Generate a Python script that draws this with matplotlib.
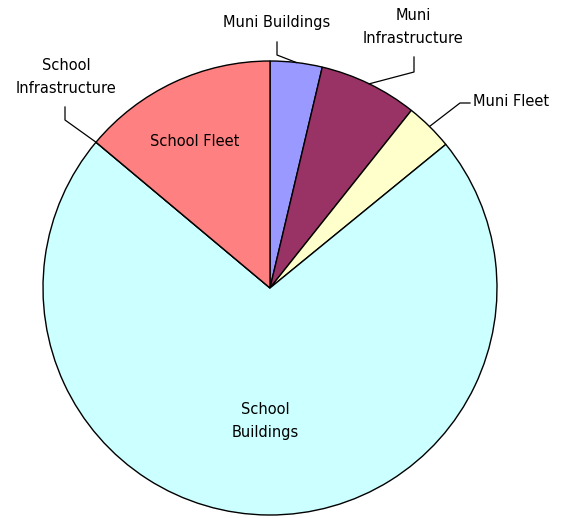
import numpy as np
import matplotlib.pyplot as plt

# slice values (percent), clockwise from 12 o'clock
labels = ['Muni Buildings', 'Muni\nInfrastructure', 'Muni Fleet',
          'School\nBuildings', 'School\nInfrastructure', 'School Fleet']
values = [3.7, 7.0, 3.4, 72.0, 0.0, 13.9]
colors = ['#9999FF', '#993366', '#FFFFCC', '#CCFFFF', '#660066', '#FF8080']

W, H = 561, 518
fig = plt.figure(figsize=(W / 100, H / 100), dpi=100)
ax = fig.add_axes([0, 0, 1, 1])

cx, cy, r = 270, H - 288, 227
ax.pie(values, colors=colors, startangle=90, counterclock=False,
       center=(cx, cy), radius=r, frame=True,
       wedgeprops=dict(edgecolor='black', linewidth=1.0))
ax.set_xlim(0, W)
ax.set_ylim(0, H)
ax.set_aspect('equal')
ax.axis('off')

# mid angle of each slice (degrees clockwise from top)
cum = np.cumsum([0] + values)
mid = (cum[:-1] + cum[1:]) / 2 / sum(values) * 360


def edge(i):
    a = np.deg2rad(mid[i])
    return cx + r * np.sin(a), cy + r * np.cos(a)


font = dict(family='DejaVu Sans', fontsize=10.5, color='black')

# outside labels with elbow leader lines
outside = {
    0: dict(text=(277, H - 22), elbow=[(277, H - 42), (277, H - 55)], ha='center'),
    1: dict(text=(413, H - 27), elbow=[(414, H - 57), (414, H - 72)], ha='center'),
    2: dict(text=(473, H - 102), elbow=[(470, H - 103), (460, H - 103)], ha='left'),
    4: dict(text=(66, H - 77), elbow=[(65, H - 107), (65, H - 120)], ha='center'),
}
for i, o in outside.items():
    ax.text(*o['text'], labels[i], ha=o['ha'], va='center',
            multialignment='center', linespacing=1.6, **font)
    ex, ey = edge(i)
    pts = o['elbow'] + [(ex, ey)]
    ax.plot([p[0] for p in pts], [p[1] for p in pts], color='black', lw=0.9)

# inside labels
ax.text(195, H - 141, labels[5], ha='center', va='center', **font)
ax.text(265, H - 421, labels[3], ha='center', va='center',
        linespacing=1.6, **font)

fig.savefig('out.png', dpi=100)
